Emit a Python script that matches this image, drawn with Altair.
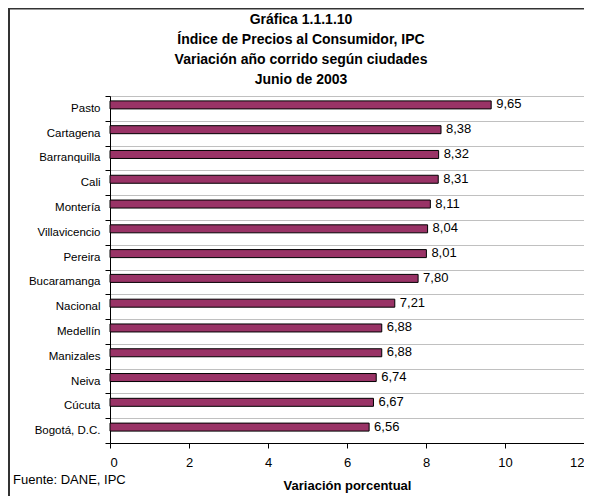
import altair as alt
import pandas as pd

ciudades = ["Pasto", "Cartagena", "Barranquilla", "Cali", "Montería", "Villavicencio",
            "Pereira", "Bucaramanga", "Nacional", "Medellín", "Manizales", "Neiva",
            "Cúcuta", "Bogotá, D.C."]
variacion = [9.65, 8.38, 8.32, 8.31, 8.11, 8.04, 8.01, 7.80, 7.21, 6.88, 6.88, 6.74, 6.67, 6.56]
x_ticks = [0, 2, 4, 6, 8, 10, 12]
titulo = ["Gráfica 1.1.1.10", "Índice de Precios al Consumidor, IPC",
          "Variación año corrido según ciudades", "Junio de 2003"]
fuente = "Fuente: DANE, IPC"
eje_x = "Variación porcentual"

df = pd.DataFrame({
    "ciudad": ciudades,
    "valor": variacion,
    "etiqueta": [f"{v:.2f}".replace(".", ",") for v in variacion],
})

FONT = "Liberation Sans"
W, H = 474, 347
BOTTOM = 53

base = alt.Chart(df)

y_enc = alt.Y("ciudad:N", sort=None, title=None,
              scale=alt.Scale(paddingInner=0, paddingOuter=0),
              axis=alt.Axis(tickBand="extent", grid=True, gridColor="#c0c0c0",
                            gridWidth=1, domainColor="black", tickColor="black",
                            tickSize=5, labelPadding=5, labelFontSize=11.5,
                            labelFont=FONT, labelColor="black"))
x_enc = alt.X("valor:Q", scale=alt.Scale(domain=[0, 12], nice=False),
              title=eje_x,
              axis=alt.Axis(values=x_ticks, grid=False, domainColor="black",
                            tickColor="black", tickSize=5, labelPadding=8,
                            labelFontSize=13, labelFont=FONT, labelColor="black",
                            titleFont=FONT, titleFontSize=13, titleFontWeight="bold",
                            titleColor="black", titlePadding=10))

bars = base.mark_bar(size=8, yOffset=-3.5, color="#993366", stroke="black",
                     strokeWidth=1).encode(x=x_enc, y=y_enc)

labels = base.mark_text(align="left", baseline="middle", dx=5, yOffset=-4,
                        fontSize=13, font=FONT, color="black").encode(
    x="valor:Q", y=alt.Y("ciudad:N", sort=None), text="etiqueta:N")

one = alt.Chart(pd.DataFrame({"t": [fuente]}))
fuente_txt = one.mark_text(align="left", baseline="middle", fontSize=13, font=FONT,
                           color="black").encode(
    x=alt.value(-97), y=alt.value(H + 37), text="t:N")

frame_left = one.mark_rule(color="#333333", strokeWidth=2).encode(
    x=alt.value(-101), y=alt.value(-88), y2=alt.value(H + BOTTOM))
frame_top = one.mark_rule(color="#333333", strokeWidth=2).encode(
    y=alt.value(-87.5), x=alt.value(-102), x2=alt.value(W))

chart = alt.layer(bars, labels, fuente_txt, frame_left, frame_top).properties(
    width=W, height=H,
    title=alt.TitleParams(text=titulo, fontSize=14, fontWeight="bold", font=FONT,
                          lineHeight=20, anchor="middle", dx=-46, dy=80, offset=0,
                          color="black"),
    autosize=alt.AutoSizeParams(type="none"),
    padding={"left": 102, "top": 88, "right": 0, "bottom": BOTTOM},
).configure_view(stroke="#808080", strokeWidth=1)

chart.save("out.html", embed_options={"renderer": "svg", "actions": False})
